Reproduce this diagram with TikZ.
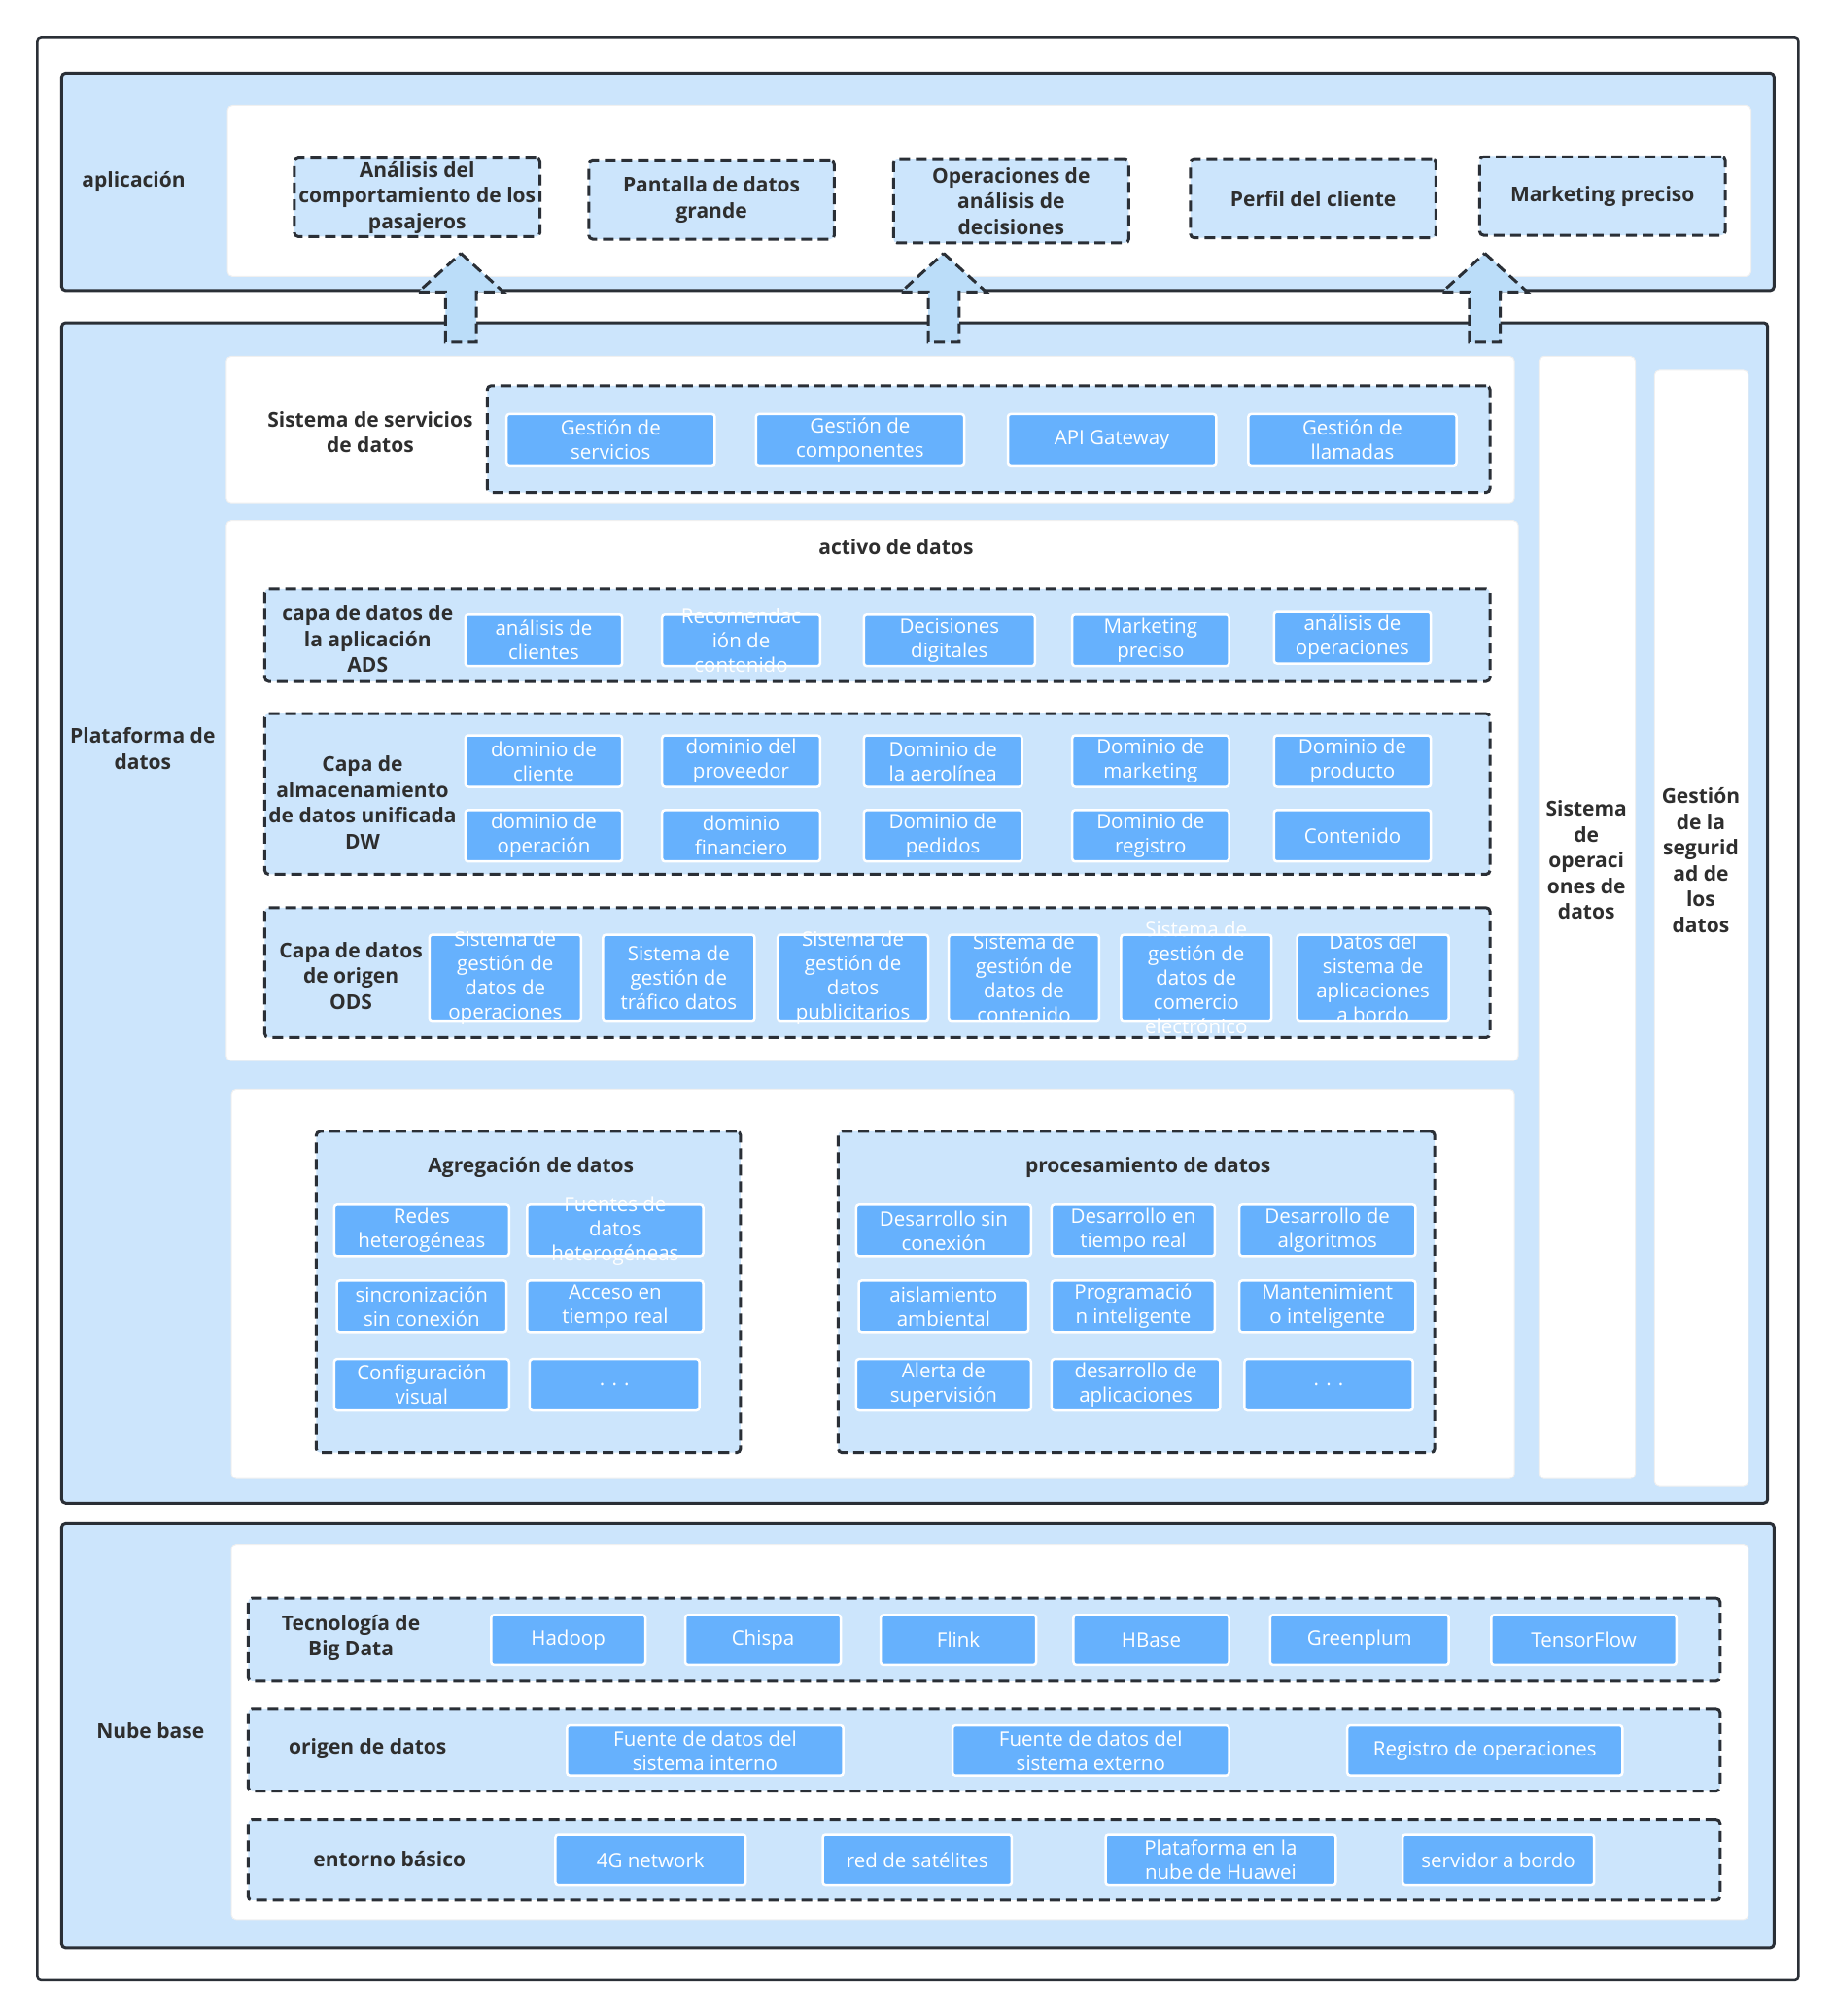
\documentclass[tikz,border=0pt]{standalone}
\usepackage{fontspec}
\setmainfont{Open Sans}
\usetikzlibrary{fit}
\definecolor{pbg}{HTML}{CCE5FC}
\definecolor{pillc}{HTML}{66B1FD}
\definecolor{dk}{HTML}{2A2F36}
\definecolor{arrc}{HTML}{BBDDF9}
\definecolor{txtc}{HTML}{2E2E2E}
\tikzset{
  panel/.style={fill=pbg, draw=dk, line width=3pt, rounded corners=4pt, inner sep=0pt},
  wbox/.style={fill=white, draw=black!6, line width=1pt, rounded corners=5pt, inner sep=0pt},
  dbox/.style={fill=pbg, draw=dk, line width=3pt, dash pattern=on 11pt off 6pt, rounded corners=4pt, inner sep=0pt},
  pillbox/.style={fill=pillc, draw=white, line width=2.5pt, rounded corners=3pt, inner sep=0pt},
  pilltxt/.style={text=white, align=center, inner sep=0pt, font=\fontsize{20.5}{25}\selectfont},
  lbl/.style={text=txtc, align=center, inner sep=0pt, font=\fontsize{21}{26.5}\selectfont\bfseries},
  blockarr/.style={fill=arrc, draw=dk, line width=3pt, dash pattern=on 11pt off 6pt, line join=miter},
}
\newcommand\pl[6]{\node[pillbox, fit={(#2,#3)(#4,#5)}] (#1) {};\node[pilltxt] (#1t) at (#1.center) {#6};}
\newcommand\dbx[6]{\node[dbox, fit={(#2,#3)(#4,#5)}] (#1) {};\node[lbl] (#1t) at (#1.center) {#6};}
\newcommand\barrow[2]{%
  \coordinate (#1tip) at (#2,197);
  \draw[blockarr] (#1tip) -- (#2+33,227) -- (#2+12,227) -- (#2+12,266) -- (#2-12,266) -- (#2-12,227) -- (#2-33,227) -- cycle;}
\begin{document}
\begin{tikzpicture}[x=1.3224pt, y=-1.3224pt]
\useasboundingbox (0,0) rectangle (1427,1568);
\fill[white] (0,0) rectangle (1427,1568);
% outer frame
\node[draw=dk, line width=2.5pt, rounded corners=4pt, inner sep=0pt, fit={(29,29)(1399,1540)}] (outer) {};

% ---------------- aplicación ----------------
\node[panel, fit={(48,57)(1380,226)}] (app) {};
\node[wbox, fit={(177,82)(1362,215)}] (appw) {};
\node[lbl] (appl) at (104,141) {aplicación};
\dbx{a1}{229}{123}{420}{184}{Análisis del\\comportamiento de los\\pasajeros}
\dbx{a2}{458}{125}{649}{186}{Pantalla de datos\\grande}
\dbx{a3}{695}{124}{878}{189}{Operaciones de\\análisis de\\decisiones}
\dbx{a4}{926}{124}{1117}{185}{Perfil del cliente}
\dbx{a5}{1151}{122}{1342}{183}{Marketing preciso}

% ---------------- Plataforma de datos ----------------
\node[panel, fit={(48,251)(1375,1169)}] (plat) {};
\node[lbl] (platl) at (111,582) {Plataforma de\\datos};

% servicios
\node[wbox, fit={(176,277)(1178,391)}] (servw) {};
\node[lbl] (servl) at (288,336) {Sistema de servicios\\de datos};
\node[dbox, fit={(379,300)(1159,383)}] (servd) {};
\pl{s1}{394}{322}{556}{362}{Gestión de\\servicios}
\pl{s2}{588}{322}{750}{362}{Gestión de\\componentes}
\pl{s3}{784}{322}{946}{362}{API Gateway}
\pl{s4}{971}{322}{1133}{362}{Gestión de\\llamadas}

% activo de datos
\node[wbox, fit={(176,405)(1181,825)}] (actw) {};
\node[lbl] (actl) at (697,425) {activo de datos};

\node[dbox, fit={(206,458)(1159,530)}] (ads) {};
\node[lbl] (adsl) at (286,497) {capa de datos de\\la aplicación\\ADS};
\pl{ad1}{362}{478}{484}{518}{análisis de\\clientes}
\pl{ad2}{515}{478}{638}{518}{Recomendac\\ión de\\contenido}
\pl{ad3}{672}{478}{805}{518}{Decisiones\\digitales}
\pl{ad4}{834}{478}{956}{518}{Marketing\\preciso}
\pl{ad5}{991}{476}{1113}{516}{análisis de\\operaciones}

\node[dbox, fit={(206,555)(1159,680)}] (dw) {};
\node[lbl] (dwl) at (282,624) {Capa de\\almacenamiento\\de datos unificada\\DW};
\pl{dw1}{362}{572}{484}{612}{dominio de\\cliente}
\pl{dw2}{515}{572}{638}{612}{dominio del\\proveedor}
\pl{dw3}{672}{572}{795}{612}{Dominio de\\la aerolínea}
\pl{dw4}{834}{572}{956}{612}{Dominio de\\marketing}
\pl{dw5}{991}{572}{1113}{612}{Dominio de\\producto}
\pl{dw6}{362}{630}{484}{670}{dominio de\\operación}
\pl{dw7}{515}{630}{638}{670}{dominio\\financiero}
\pl{dw8}{672}{630}{795}{670}{Dominio de\\pedidos}
\pl{dw9}{834}{630}{956}{670}{Dominio de\\registro}
\pl{dw10}{991}{630}{1113}{670}{Contenido}

\node[dbox, fit={(206,706)(1159,807)}] (ods) {};
\node[lbl] (odsl) at (273,759) {Capa de datos\\de origen\\ODS};
\pl{od1}{334}{727}{452}{794}{Sistema de\\gestión de\\datos de\\operaciones}
\pl{od2}{469}{727}{587}{794}{Sistema de\\gestión de\\tráfico datos}
\pl{od3}{605}{727}{722}{794}{Sistema de\\gestión de\\datos\\publicitarios}
\pl{od4}{738}{727}{855}{794}{Sistema de\\gestión de\\datos de\\contenido}
\pl{od5}{872}{727}{989}{794}{Sistema de\\gestión de\\datos de\\comercio\\electrónico}
\pl{od6}{1009}{727}{1127}{794}{Datos del\\sistema de\\aplicaciones\\a bordo}

% agregación / procesamiento
\node[wbox, fit={(180,847)(1178,1150)}] (procw) {};
\node[dbox, fit={(246,880)(576,1130)}] (agg) {};
\node[lbl] (aggl) at (413,908) {Agregación de datos};
\pl{g1}{260}{937}{396}{977}{Redes\\heterogéneas}
\pl{g2}{410}{937}{547}{977}{Fuentes de\\datos\\heterogéneas}
\pl{g3}{262}{996}{394}{1036}{sincronización\\sin conexión}
\pl{g4}{410}{996}{547}{1036}{Acceso en\\tiempo real}
\pl{g5}{260}{1057}{396}{1097}{Configuración\\visual}
\pl{g6}{412}{1057}{544}{1097}{. . .}

\node[dbox, fit={(652,880)(1116,1130)}] (proc) {};
\node[lbl] (procl) at (893,908) {procesamiento de datos};
\pl{p1}{666}{937}{802}{977}{Desarrollo sin\\conexión}
\pl{p2}{818}{937}{945}{977}{Desarrollo en\\tiempo real}
\pl{p3}{964}{937}{1101}{977}{Desarrollo de\\algoritmos}
\pl{p4}{668}{996}{800}{1036}{aislamiento\\ambiental}
\pl{p5}{818}{996}{945}{1036}{Programació\\n inteligente}
\pl{p6}{964}{996}{1101}{1036}{Mantenimient\\o inteligente}
\pl{p7}{666}{1057}{802}{1097}{Alerta de\\supervisión}
\pl{p8}{818}{1057}{949}{1097}{desarrollo de\\aplicaciones}
\pl{p9}{968}{1057}{1099}{1097}{. . .}

% side columns
\node[wbox, fit={(1197,277)(1272,1150)}] (opsw) {};
\node[lbl] (opsl) at (1234,669) {Sistema\\de\\operaci\\ones de\\datos};
\node[wbox, fit={(1287,288)(1360,1156)}] (segw) {};
\node[lbl] (segl) at (1323,669) {Gestión\\de la\\segurid\\ad de\\los\\datos};

% ---------------- Nube base ----------------
\node[panel, fit={(48,1185)(1380,1515)}] (nube) {};
\node[lbl] (nubel) at (117,1346) {Nube base};
\node[wbox, fit={(180,1201)(1360,1493)}] (nubew) {};

\node[dbox, fit={(193,1243)(1338,1307)}] (bd) {};
\node[lbl] (bdl) at (273,1274) {Tecnología de\\Big Data};
\pl{b1}{382}{1256}{502}{1295}{Hadoop}
\pl{b2}{533}{1256}{654}{1295}{Chispa}
\pl{b3}{685}{1256}{806}{1295}{Flink}
\pl{b4}{835}{1256}{956}{1295}{HBase}
\pl{b5}{988}{1256}{1127}{1295}{Greenplum}
\pl{b6}{1160}{1256}{1304}{1295}{TensorFlow}

\node[dbox, fit={(193,1329)(1338,1393)}] (org) {};
\node[lbl] (orgl) at (286,1360) {origen de datos};
\pl{o1}{441}{1342}{656}{1381}{Fuente de datos del\\sistema interno}
\pl{o2}{741}{1342}{956}{1381}{Fuente de datos del\\sistema externo}
\pl{o3}{1048}{1342}{1262}{1381}{Registro de operaciones}

\node[dbox, fit={(193,1415)(1338,1478)}] (ent) {};
\node[lbl] (entl) at (303,1446) {entorno básico};
\pl{e1}{432}{1427}{580}{1466}{4G network}
\pl{e2}{640}{1427}{787}{1466}{red de satélites}
\pl{e3}{860}{1427}{1039}{1466}{Plataforma en la\\nube de Huawei}
\pl{e4}{1091}{1427}{1240}{1466}{servidor a bordo}

% block arrows from plataforma to aplicación
\barrow{ar1}{358.5}
\barrow{ar2}{734}
\barrow{ar3}{1155}
\end{tikzpicture}
\end{document}
